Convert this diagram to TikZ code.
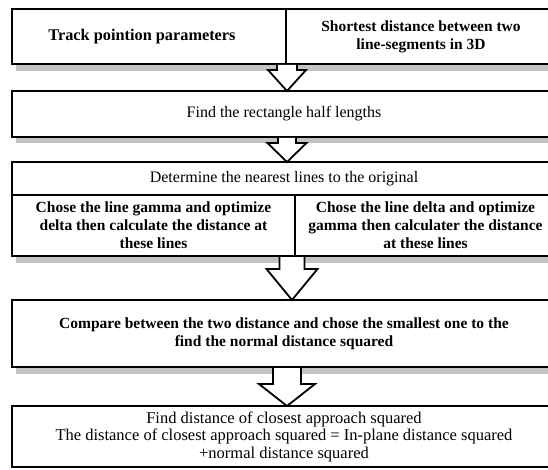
\documentclass[tikz,border=0pt]{standalone}
\usepackage{fontspec}
\setmainfont{Liberation Serif}
\usetikzlibrary{calc}
\definecolor{shadowgray}{RGB}{195,195,195}
\begin{document}
\begin{tikzpicture}[x=1pt,y=-1pt,
  box/.style={draw=black, line width=2pt, fill=white, inner sep=2pt, outer sep=0pt,
    align=center, anchor=north west, font=\fontsize{16}{18}\selectfont},
  boldbox/.style={box, font=\fontsize{15.5}{18}\selectfont\bfseries},
  shadowfill/.style={fill=shadowgray, draw=none},
  barrow/.style={draw=black, line width=1.8pt, fill=white, line join=miter}]
\useasboundingbox (0,0) rectangle (548,470);

% shadows
\fill[shadowfill] (15.5,16.5) rectangle (559.5,71);
\fill[shadowfill] (15.5,98) rectangle (559.5,143);
\fill[shadowfill] (15.5,169) rectangle (559.5,263);
\fill[shadowfill] (15.5,307) rectangle (559.5,374);

% boxes
\node[boldbox, minimum width=274pt, minimum height=54.5pt] (b1l) at (12,9.5) {};
\node[font=\fontsize{16.3}{18}\selectfont\bfseries] (t1l) at (142,37) {Track pointion parameters};
\node[boldbox, minimum width=270pt, minimum height=54.5pt] (b1r) at (286,9.5)
  {Shortest distance between two\\line-segments in 3D};
\node[box, minimum width=544pt, minimum height=46pt] (b2) at (12,91)
  {Find the rectangle half lengths};
\node[box, minimum width=544pt, minimum height=33pt] (b3t) at (12,162)
  {Determine the nearest lines to the original};
\node[boldbox, minimum width=283pt, minimum height=61pt] (b3l) at (12,195)
  {Chose the line gamma and optimize\\delta then calculate the distance at\\these lines};
\node[boldbox, minimum width=261pt, minimum height=61pt] (b3r) at (295,195)
  {Chose the line delta and optimize\\gamma then calculater the distance\\at these lines};
\node[boldbox, minimum width=544pt, minimum height=67pt] (b4) at (12,300)
  {Compare between the two distance and chose the smallest one to the\\find the normal distance squared};
\node[box, minimum width=544pt, minimum height=61pt, font=\fontsize{16.5}{17.5}\selectfont] (b5) at (12,406)
  {Find distance of closest approach squared\\The distance of closest approach squared = In-plane distance squared\\+normal distance squared};

% arrow axes
\coordinate (axA) at (287,0);
\coordinate (axB) at (292,0);
\path (b1l.south -| axA) coordinate (a1s) (b2.north -| axA) coordinate (a1t);
\path (b2.south -| axA) coordinate (a2s) (b3t.north -| axA) coordinate (a2t);
\path (b3l.south -| axB) coordinate (a3s) (b4.north -| axB) coordinate (a3t);
\path (b4.south -| axA) coordinate (a4s) (b5.north -| axA) coordinate (a4t);

\draw[barrow] ($(a1s)+(-10,1)$) -- ($(a1s)+(-10,6)$) -- ($(a1s)+(-19,6)$) -- (a1t)
  -- ($(a1s)+(19,6)$) -- ($(a1s)+(10,6)$) -- ($(a1s)+(10,1)$);
\draw[barrow] ($(a2s)+(-9,1)$) -- ($(a2s)+(-9,6)$) -- ($(a2s)+(-19.5,6)$) -- (a2t)
  -- ($(a2s)+(19.5,6)$) -- ($(a2s)+(9,6)$) -- ($(a2s)+(9,1)$);
\draw[barrow] ($(a3s)+(-12.5,1)$) -- ($(a3s)+(-12.5,13)$) -- ($(a3s)+(-25.5,13)$) -- (a3t)
  -- ($(a3s)+(25.5,13)$) -- ($(a3s)+(12.5,13)$) -- ($(a3s)+(12.5,1)$);
\draw[barrow] ($(a4s)+(-14,1)$) -- ($(a4s)+(-14,17)$) -- ($(a4s)+(-28,17)$) -- (a4t)
  -- ($(a4s)+(28,17)$) -- ($(a4s)+(14,17)$) -- ($(a4s)+(14,1)$);
\end{tikzpicture}
\end{document}
